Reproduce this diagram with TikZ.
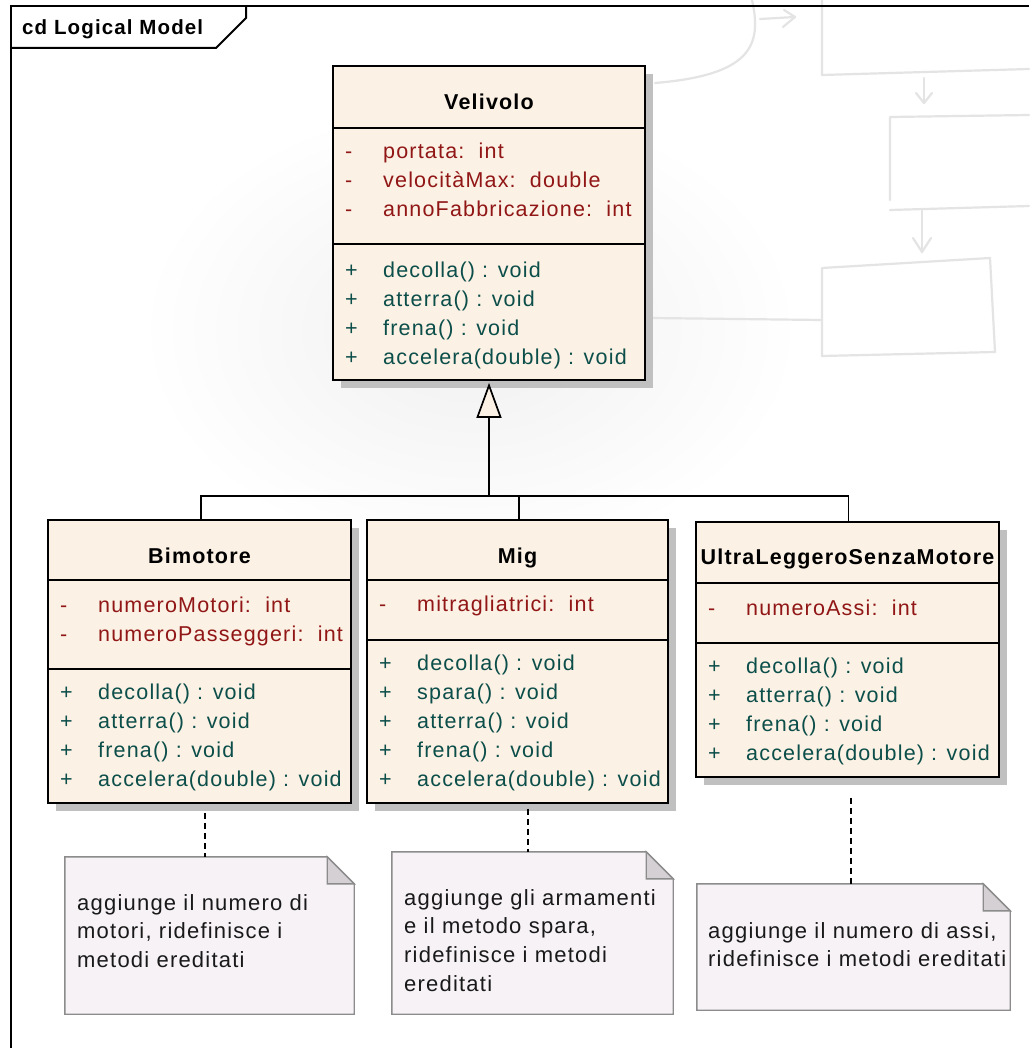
\documentclass[tikz,border=0pt]{standalone}
\usepackage{fontspec}
\setmainfont{Liberation Sans}[LetterSpace=5.5]
\usetikzlibrary{arrows.meta,shadows}

\definecolor{classfill}{RGB}{251,241,228}
\definecolor{attrred}{RGB}{145,22,22}
\definecolor{methteal}{RGB}{12,78,74}
\definecolor{notefill}{RGB}{246,242,246}
\definecolor{noteedge}{RGB}{140,140,140}
\definecolor{foldfill}{RGB}{212,208,212}
\definecolor{shadowgray}{RGB}{192,192,192}
\definecolor{sketch}{RGB}{228,228,228}

\newcommand{\umlfont}{\fontsize{21.5}{29}\selectfont}
\newcommand{\notefont}{\fontsize{22}{28.7}\selectfont}

\begin{document}
\begin{tikzpicture}[x=1pt,y=-1pt,
  umlclass/.style={draw=black, line width=1.7pt, fill=classfill, inner sep=0pt,
    drop shadow={shadow xshift=8pt, shadow yshift=-8pt, fill=shadowgray, opacity=1}},
  classline/.style={draw=black, line width=1.7pt},
  classtitle/.style={anchor=base, inner sep=0pt, font=\umlfont\bfseries},
  attrs/.style={anchor=base west, inner sep=0pt, font=\umlfont, text=attrred},
  meths/.style={anchor=base west, inner sep=0pt, font=\umlfont, text=methteal},
  notebox/.style={inner sep=0pt},
  notepath/.style={draw=noteedge, line width=1.4pt, fill=notefill},
  foldpath/.style={draw=noteedge, line width=1.4pt, fill=foldfill, line join=miter},
  notetext/.style={anchor=base west, inner sep=0pt, font=\notefont, text=black!90},
  notelink/.style={draw=black, line width=1.6pt, dash pattern=on 6pt off 4pt},
  genline/.style={draw=black, line width=1.7pt},
  sketchline/.style={draw=sketch, line width=2.2pt, line cap=round, line join=round},
]
\useasboundingbox (0,0) rectangle (1029,1048);
\fill[white] (0,0) rectangle (1029,1048);

% soft backdrop
\shade[inner color=black!6, outer color=white] (470,330) ellipse [x radius=330, y radius=230];

% hand-drawn flowchart sketch in the background
\draw[sketchline] (752,0) .. controls (762,45) and (752,75) .. (655,83);
\draw[sketchline] (760,19) -- (795,17);
\draw[sketchline] (784,10) -- (795,17) -- (783,27);
\draw[sketchline] (822,0) -- (822,75) -- (1029,69);
\draw[sketchline] (924,78) -- (924,103);
\draw[sketchline] (916,93) -- (924,103) -- (932,93);
\draw[sketchline] (1029,115) -- (890,117) -- (890,200);
\draw[sketchline] (890,210) -- (1029,206);
\draw[sketchline] (922,210) -- (922,252);
\draw[sketchline] (913,238) -- (922,252) -- (931,238);
\draw[sketchline] (822,268) -- (990,258) -- (995,352) -- (822,356) -- cycle;
\draw[sketchline] (652,318) -- (822,320);

% diagram frame and its tag
\draw[line width=2pt] (11,1048) -- (11,6) -- (1029,6);
\draw[line width=2pt] (11,48) -- (216,48) -- (246,18) -- (246,6);
\node[anchor=base west, inner sep=0pt, font=\fontsize{20.5}{24}\selectfont\bfseries] (frametag) at (22,35) {cd Logical Model};

% ---------- Velivolo ----------
\node[umlclass, minimum width=312pt, minimum height=314pt] (velivolo) at (489,223) {};
\draw[classline] ([yshift=-63pt]velivolo.north west) -- ([yshift=-63pt]velivolo.north east);
\draw[classline] ([yshift=-179pt]velivolo.north west) -- ([yshift=-179pt]velivolo.north east);
\node[classtitle] (velivolo-name) at (489,110) {Velivolo};
\node[attrs] (velivolo-attr) at (345,159) {\begin{tabular}[t]{@{}p{38pt}@{}l@{}}
-& portata:\ \ int\\
-& velocitàMax:\ \ double\\
-& annoFabbricazione:\ \ int\end{tabular}};
\node[meths] (velivolo-ops) at (345,277) {\begin{tabular}[t]{@{}p{38pt}@{}l@{}}
+& decolla() : void\\
+& atterra() : void\\
+& frena() : void\\
+& accelera(double) : void\end{tabular}};

% ---------- Bimotore ----------
\node[umlclass, minimum width=303pt, minimum height=283pt] (bimotore) at (199.5,661.5) {};
\draw[classline] ([yshift=-61pt]bimotore.north west) -- ([yshift=-61pt]bimotore.north east);
\draw[classline] ([yshift=-150pt]bimotore.north west) -- ([yshift=-150pt]bimotore.north east);
\node[classtitle] (bimotore-name) at (199.5,563) {Bimotore};
\node[attrs] (bimotore-attr) at (60,612) {\begin{tabular}[t]{@{}p{38pt}@{}l@{}}
-& numeroMotori:\ \ int\\
-& numeroPasseggeri:\ \ int\end{tabular}};
\node[meths] (bimotore-ops) at (60,699) {\begin{tabular}[t]{@{}p{38pt}@{}l@{}}
+& decolla() : void\\
+& atterra() : void\\
+& frena() : void\\
+& accelera(double) : void\end{tabular}};

% ---------- Mig ----------
\node[umlclass, minimum width=301pt, minimum height=283pt] (mig) at (517.5,661.5) {};
\draw[classline] ([yshift=-61pt]mig.north west) -- ([yshift=-61pt]mig.north east);
\draw[classline] ([yshift=-121pt]mig.north west) -- ([yshift=-121pt]mig.north east);
\node[classtitle] (mig-name) at (517.5,563) {Mig};
\node[attrs] (mig-attr) at (379,611) {\begin{tabular}[t]{@{}p{38pt}@{}l@{}}
-& mitragliatrici:\ \ int\end{tabular}};
\node[meths] (mig-ops) at (379,670) {\begin{tabular}[t]{@{}p{38pt}@{}l@{}}
+& decolla() : void\\
+& spara() : void\\
+& atterra() : void\\
+& frena() : void\\
+& accelera(double) : void\end{tabular}};

% ---------- UltraLeggeroSenzaMotore ----------
\node[umlclass, minimum width=303pt, minimum height=255pt] (ultra) at (847.5,649.5) {};
\draw[classline] ([yshift=-62pt]ultra.north west) -- ([yshift=-62pt]ultra.north east);
\draw[classline] ([yshift=-122pt]ultra.north west) -- ([yshift=-122pt]ultra.north east);
\node[classtitle] (ultra-name) at (847.5,564) {UltraLeggeroSenzaMotore};
\node[attrs] (ultra-attr) at (708,615) {\begin{tabular}[t]{@{}p{38pt}@{}l@{}}
-& numeroAssi:\ \ int\end{tabular}};
\node[meths] (ultra-ops) at (708,673) {\begin{tabular}[t]{@{}p{38pt}@{}l@{}}
+& decolla() : void\\
+& atterra() : void\\
+& frena() : void\\
+& accelera(double) : void\end{tabular}};

% ---------- generalization tree ----------
\coordinate (join) at (489,496);
\coordinate (bimx) at (201,0);
\coordinate (migx) at (519,0);
\coordinate (ultx) at (848.5,0);
\draw[genline] (bimotore.north -| bimx) |- (join);
\draw[genline] (mig.north -| migx) |- (join);
\draw[genline] (ultra.north -| ultx) |- (join);
\draw[genline, -{Triangle[length=35pt, width=25pt, fill=classfill, line width=1.7pt]}]
  (join) -- ([yshift=-2pt]velivolo.south);

% ---------- notes ----------
\node[notebox, minimum width=289pt, minimum height=157pt] (note1) at (209.5,935.5) {};
\node[notebox, minimum width=281pt, minimum height=162pt] (note2) at (532.5,933) {};
\node[notebox, minimum width=313pt, minimum height=126pt] (note3) at (853.5,947) {};

\foreach \n in {note1,note2,note3}{
  \draw[notepath] (\n.south west) -- (\n.north west) -- ([xshift=-27pt]\n.north east)
    -- ([yshift=-27pt]\n.north east) -- (\n.south east) -- cycle;
  \draw[foldpath] ([xshift=-27pt]\n.north east) -- ([xshift=-27pt,yshift=-27pt]\n.north east)
    -- ([yshift=-27pt]\n.north east) -- cycle;
}

\node[notetext] (note1-text) at (77,910) {\begin{tabular}[t]{@{}l@{}}
aggiunge il numero di\\
motori, ridefinisce i\\
metodi ereditati\end{tabular}};
\node[notetext] (note2-text) at (404,905) {\begin{tabular}[t]{@{}l@{}}
aggiunge gli armamenti\\
e il metodo spara,\\
ridefinisce i metodi\\
ereditati\end{tabular}};
\node[notetext] (note3-text) at (708,938) {\begin{tabular}[t]{@{}l@{}}
aggiunge il numero di assi,\\
ridefinisce i metodi ereditati\end{tabular}};

% note anchors
\coordinate (l1) at (205,0);
\coordinate (l2) at (528,0);
\coordinate (l3) at (851,0);
\draw[notelink, shorten <=9pt] (bimotore.south -| l1) -- (note1.north -| l1);
\draw[notelink, shorten <=5pt] (mig.south -| l2) -- (note2.north -| l2);
\draw[notelink, shorten <=20pt] (ultra.south -| l3) -- (note3.north -| l3);
\end{tikzpicture}
\end{document}
